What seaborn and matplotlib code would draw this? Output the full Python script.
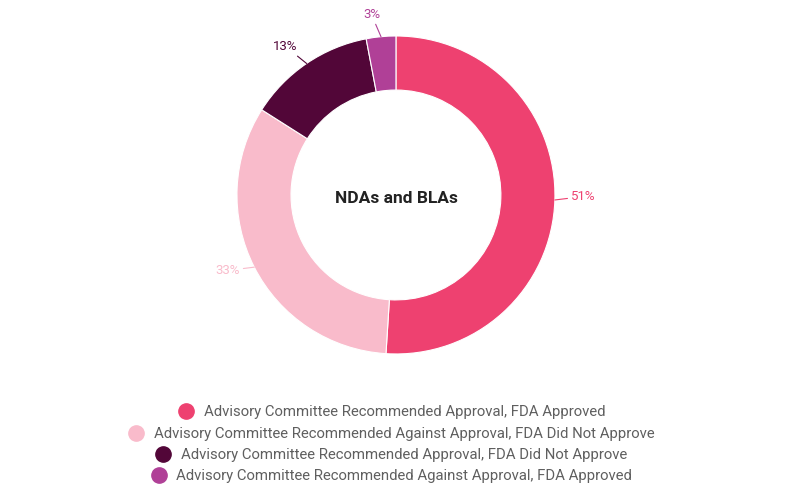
import numpy as np
import matplotlib
matplotlib.use('Agg')
import matplotlib.pyplot as plt
import seaborn as sns

# chart data
categories = [
   'Advisory Committee Recommended Approval, FDA Approved',
   'Advisory Committee Recommended Against Approval, FDA Did Not Approve',
   'Advisory Committee Recommended Approval, FDA Did Not Approve',
   'Advisory Committee Recommended Against Approval, FDA Approved',
]
shares = [51, 33, 13, 3]
pct_labels = ['51%', '33%', '13%', '3%']
colors = ['#ee4170', '#f9bbcb', '#520638', '#b04097']
center_title = 'NDAs and BLAs'


def main():
   sns.set_theme(style='white')
   plt.rcParams['font.family'] = ['Roboto', 'DejaVu Sans']

   fig = plt.figure(figsize=(7.85, 4.94), dpi=100)
   # square axes, pie radius 1 inside limits of +-1.3
   ax = fig.add_axes([0.2411, 0.1869, 0.5266, 0.8368])

   wedges, _ = ax.pie(shares, colors=colors, startangle=90, counterclock=False,
                      radius=1.0, wedgeprops=dict(width=0.34, edgecolor='white', linewidth=0.8))
   ax.set_xlim(-1.3, 1.3)
   ax.set_ylim(-1.3, 1.3)
   ax.set_aspect('equal')
   ax.axis('off')

   for w, lab, col in zip(wedges, pct_labels, colors):
      ang = np.deg2rad((w.theta1 + w.theta2) / 2.)
      cx, cy = np.cos(ang), np.sin(ang)
      ha = 'left' if cx > 0.2 else ('right' if cx < -0.2 else 'center')
      tx, ty = 1.1 * cx, 1.1 * cy + 0.025
      if abs(cx) <= 0.2:
         ty = 1.1 * cy + 0.04
         tx = cx - 0.06
      ax.annotate(lab, xy=(1.0 * cx, 1.0 * cy), xytext=(tx, ty), ha=ha, va='center',
                  fontsize=9.5, color=col,
                  arrowprops=dict(arrowstyle='-', color=col, lw=0.8, shrinkA=0, shrinkB=0))

   ax.text(0, -0.02, center_title, ha='center', va='center', fontsize=12.5,
           fontweight='bold', color='#222222')

   # one centred legend row per category
   rows_y = [412, 434, 455, 476]
   for cat, col, ry in zip(categories, colors, rows_y):
      h = plt.Line2D([], [], marker='o', linestyle='', markersize=11,
                     markerfacecolor=col, markeredgecolor=col)
      fig.legend([h], [cat], loc='center', bbox_to_anchor=(391 / 785, 1 - ry / 494),
                 frameon=False, fontsize=10.7, labelcolor='#5f5f5f',
                 handletextpad=0.6, borderpad=0, handlelength=1.2)

   plt.savefig('out.png', dpi=100)


if __name__ == '__main__':
   main()
